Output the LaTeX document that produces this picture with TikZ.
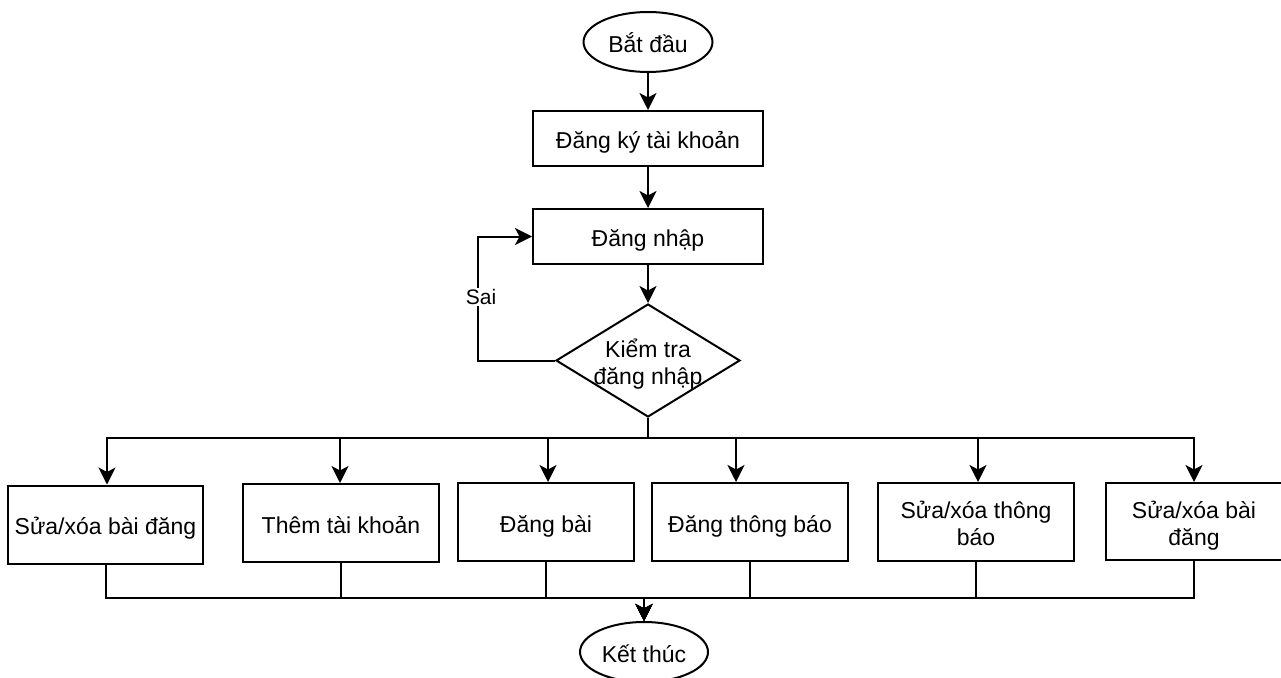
\documentclass[tikz,border=0pt]{standalone}
\usepackage{fontspec}
\setmainfont{Liberation Sans}
\usetikzlibrary{arrows.meta,shapes.geometric}
\newcommand{\tx}[1]{\raisebox{-5pt}[\height][\depth]{\begin{tabular}{@{}c@{}}#1\end{tabular}}}
\begin{document}
\begin{tikzpicture}[x=1pt,y=-1pt,
  every node/.style={font=\fontsize{23}{27}\selectfont, text=black},
  boxnode/.style={draw, line width=2pt, rectangle, inner sep=0pt},
  termnode/.style={draw, line width=2pt, ellipse, inner sep=0pt, minimum width=129pt, minimum height=60pt},
  decnode/.style={draw, line width=2pt, diamond, inner sep=0pt, minimum width=184pt, minimum height=113pt},
  conn/.style={line width=2pt, line join=miter},
  arr/.style={conn, -{Stealth[length=17pt,width=17pt,inset=4.5pt]}},
  lbl/.style={fill=white, inner sep=1pt, font=\fontsize{21}{25}\selectfont}
]
\useasboundingbox (0,0) rectangle (1281,677);
\fill[white] (0,0) rectangle (1281,677);

\node[termnode] (start) at (648,42) {\tx{Bắt đầu}};
\node[boxnode, minimum width=230pt, minimum height=55pt] (reg) at (648,138.5) {\tx{Đăng ký tài khoản}};
\node[boxnode, minimum width=230pt, minimum height=55pt] (login) at (648,236.5) {\tx{Đăng nhập}};
\node[decnode, label={center:\tx{Kiểm tra\\đăng nhập}}] (chk) at (648,360.5) {};

\node[boxnode, minimum width=195pt, minimum height=78pt] (b1) at (105.5,524.5) {\tx{Sửa/xóa bài đăng}};
\node[boxnode, minimum width=196pt, minimum height=78pt] (b2) at (341,523) {\tx{Thêm tài khoản}};
\node[boxnode, minimum width=176pt, minimum height=78pt] (b3) at (546,522) {\tx{Đăng bài}};
\node[boxnode, minimum width=196pt, minimum height=78pt] (b4) at (750,522) {\tx{Đăng thông báo}};
\node[boxnode, minimum width=196pt, minimum height=78pt] (b5) at (976,522) {\tx{Sửa/xóa thông\\báo}};
\node[boxnode, minimum width=176pt, minimum height=77pt] (b6) at (1194,521.5) {\tx{Sửa/xóa bài\\đăng}};

\node[termnode, minimum width=128pt] (fin) at (644,652) {\tx{Kết thúc}};

\draw[arr] (start) -- (reg);
\draw[arr] (reg) -- (login);
\draw[arr] (login) -- (chk);
\draw[arr] (chk.west) -- ++(-77,0) |- (login.west);
\node[lbl] (sai) at (481,297) {Sai};

\draw[arr] (chk.south) -- ++(0,20) -| ([xshift=1.5pt]b1.north);
\draw[arr] (chk.south) -- ++(0,20) -| ([xshift=-1pt]b2.north);
\draw[arr] (chk.south) -- ++(0,20) -| ([xshift=2pt]b3.north);
\draw[arr] (chk.south) -- ++(0,20) -| ([xshift=-14pt]b4.north);
\draw[arr] (chk.south) -- ++(0,20) -| ([xshift=2pt]b5.north);
\draw[arr] (chk.south) -- ++(0,20) -| (b6.north);

\coordinate (mrg) at ([yshift=23pt]fin.north);
\draw[arr] (b1.south) |- (mrg) -- (fin.north);
\draw[arr] (b2.south) |- (mrg) -- (fin.north);
\draw[arr] (b3.south) |- (mrg) -- (fin.north);
\draw[arr] (b4.south) |- (mrg) -- (fin.north);
\draw[arr] (b5.south) |- (mrg) -- (fin.north);
\draw[arr] (b6.south) |- (mrg) -- (fin.north);
\end{tikzpicture}
\end{document}
